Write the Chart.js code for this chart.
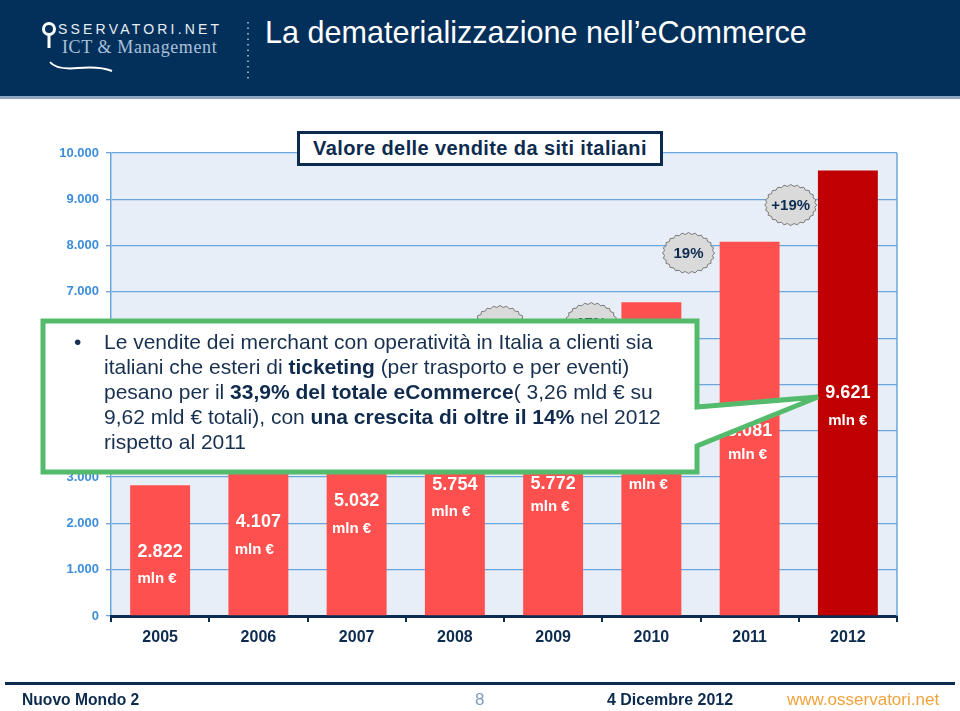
<!DOCTYPE html>
<html><head><meta charset="utf-8">
<script src="https://cdn.jsdelivr.net/npm/chart.js@4.4.1/dist/chart.umd.min.js"></script>
<style>
body{margin:0;width:960px;height:711px;overflow:hidden;background:#fff;position:relative;font-family:"Liberation Sans",Arial,sans-serif;}
#c{position:absolute;left:0;top:0;}
#hdr{position:absolute;left:0;top:0;width:960px;height:96px;background:#03305b;border-bottom:3px solid #8ea6bf;}
#ttl{position:absolute;left:265px;top:14px;color:#fff;font-size:32px;white-space:nowrap;transform:scaleX(0.955);transform-origin:left top;}
#logo1{position:absolute;left:58px;top:21px;color:#e8eef6;font-size:14px;letter-spacing:3.2px;white-space:nowrap;}
#logo2{position:absolute;left:62px;top:37px;color:#a9c0da;font-family:"Liberation Serif","DejaVu Serif",serif;font-size:18px;letter-spacing:0.6px;white-space:nowrap;}
#vbox{position:absolute;left:297px;top:131px;width:360px;height:29px;border:3px solid #0d2b4e;background:#fff;color:#0d2b4e;font-weight:bold;font-size:20px;letter-spacing:0.4px;line-height:29px;text-align:center;white-space:nowrap;}
#txt{position:absolute;left:104px;top:329px;font-size:21px;line-height:25px;color:#18304f;white-space:nowrap;}
#txt b{color:#0f2a4d;}
#bul{position:absolute;left:74px;top:329px;font-size:21px;line-height:25px;color:#18304f;}
#fline{position:absolute;left:5px;top:682px;width:950px;height:3px;background:#0d2b4e;}
.ft{position:absolute;top:690px;font-family:"Liberation Sans Narrow","Liberation Sans",Arial,sans-serif;font-size:17px;font-weight:bold;white-space:nowrap;transform-origin:left top;}
</style></head><body>
<canvas id="c" width="960" height="711"></canvas>
<div id="hdr"></div>
<svg style="position:absolute;left:0;top:0" width="960" height="100">
  <circle cx="49" cy="29" r="5.5" fill="none" stroke="#fff" stroke-width="3"/>
  <line x1="49" y1="35" x2="49" y2="48" stroke="#fff" stroke-width="3"/>
  <path d="M50,62 Q56,70 78,68 Q100,66 112,71" fill="none" stroke="#fff" stroke-width="2"/>
  <line x1="248" y1="22" x2="248" y2="82" stroke="#b8c8da" stroke-width="1.5" stroke-dasharray="1.5,4"/>
</svg>
<div id="logo1">SSERVATORI.NET</div>
<div id="logo2">ICT &amp; Management</div>
<div id="ttl">La dematerializzazione nell’eCommerce</div>
<div id="vbox">Valore delle vendite da siti italiani</div>
<svg style="position:absolute;left:0;top:0" width="960" height="711">
  <path d="M43,321 H697 V407 L818,397 L697,446 V472 H43 Z" fill="#fff" stroke="#55bb6c" stroke-width="5" stroke-linejoin="miter"/>
</svg>
<div id="bul">•</div>
<div id="txt">Le vendite dei merchant con operatività in Italia a clienti sia<br>italiani che esteri di <b>ticketing</b> (per trasporto e per eventi)<br>pesano per il <b>33,9% del totale eCommerce</b>( 3,26 mld € su<br>9,62 mld € totali), con <b>una crescita di oltre il 14%</b> nel 2012<br>rispetto al 2011</div>
<div id="fline"></div>
<div class="ft" style="left:22px;color:#0d2b4e;transform:scaleX(0.92);">Nuovo Mondo 2</div>
<div class="ft" style="left:475px;color:#7d9cc0;font-weight:normal;">8</div>
<div class="ft" style="left:607px;color:#0d2b4e;transform:scaleX(0.94);">4 Dicembre 2012</div>
<div class="ft" style="left:787px;color:#f2a23a;font-weight:normal;">www.osservatori.net</div>
<script>
const years = ['2005','2006','2007','2008','2009','2010','2011','2012'];
const sales = [2822, 4107, 5032, 5754, 5772, 6775, 8081, 9621];
const unitLabel = 'mln €';
const growthAfter = [3, 4, 5, 6];
const growthLabels = ['0%', '17%', '19%', '+19%'];

const fmt = v => String(v).replace(/\B(?=(\d{3})+(?!\d))/g, '.');
const FONT = '"Liberation Sans", Arial, sans-serif';

const bgPlugin = {
  id: 'bg',
  beforeDraw(chart) {
    const {ctx, chartArea: a} = chart;
    ctx.save(); ctx.fillStyle = '#e8eef7';
    ctx.fillRect(a.left, a.top, a.right - a.left, a.bottom - a.top);
    ctx.restore();
  },
  beforeDatasetsDraw(chart) {
    const {ctx, chartArea: a} = chart;
    ctx.save(); ctx.strokeStyle = '#6aa6dc'; ctx.lineWidth = 1.5;
    ctx.beginPath(); ctx.moveTo(a.right, a.top); ctx.lineTo(a.right, a.bottom); ctx.stroke();
    ctx.restore();
  }
};

const barLabelPlugin = {
  id: 'barLabels',
  afterDatasetsDraw(chart, args, opts) {
    const ctx = chart.ctx, ys = chart.scales.y, meta = chart.getDatasetMeta(0);
    ctx.save(); ctx.fillStyle = '#fff'; ctx.textAlign = 'center'; ctx.textBaseline = 'middle';
    meta.data.forEach((bar, i) => {
      ctx.font = 'bold 18px ' + FONT;
      ctx.fillText(fmt(sales[i]), bar.x, ys.getPixelForValue(opts.numAt[i]));
      ctx.font = 'bold 15px ' + FONT;
      ctx.fillText(unitLabel, bar.x + opts.unitDx[i], ys.getPixelForValue(opts.unitAt[i]));
    });
    ctx.restore();
  }
};

const bubblePlugin = {
  id: 'bubbles',
  afterDatasetsDraw(chart, args, opts) {
    const ctx = chart.ctx, xs = chart.scales.x, ys = chart.scales.y;
    growthAfter.forEach((idx, k) => {
      const cx = (xs.getPixelForValue(idx) + xs.getPixelForValue(idx + 1)) / 2 + opts.dx[k];
      const cy = ys.getPixelForValue(opts.at[k]);
      const rx = 26, ry = 20.5, N = 48;
      ctx.save();
      ctx.beginPath();
      for (let j = 0; j <= N; j++) {
        const t = j / N * Math.PI * 2;
        const d = (j % 2) ? 1.8 : 0;
        const px = cx + (rx - d) * Math.cos(t), py = cy + (ry - d) * Math.sin(t);
        if (j === 0) ctx.moveTo(px, py); else ctx.lineTo(px, py);
      }
      ctx.closePath();
      ctx.fillStyle = '#dadada'; ctx.fill();
      ctx.strokeStyle = '#7a7a7a'; ctx.lineWidth = 1; ctx.stroke();
      ctx.fillStyle = '#0d2b4e'; ctx.font = 'bold 15px ' + FONT;
      ctx.textAlign = 'center'; ctx.textBaseline = 'middle';
      ctx.fillText(growthLabels[k], cx, cy + 1);
      ctx.restore();
    });
  }
};

new Chart(document.getElementById('c'), {
  type: 'bar',
  data: {
    labels: years,
    datasets: [{
      data: sales,
      backgroundColor: ctx => ctx.dataIndex === sales.length - 1 ? '#c00000' : '#ff5050',
      borderWidth: 0,
      categoryPercentage: 1,
      barPercentage: 0.61
    }]
  },
  options: {
    responsive: false,
    animation: false,
    devicePixelRatio: 1,
    layout: {padding: {left: 0, right: 63, top: 153, bottom: 0}},
    plugins: {
      legend: {display: false},
      tooltip: {enabled: false},
      barLabels: {
        numAt: [1382, 2030, 2484, 2830, 2840, 3420, 3996, 4816],
        unitAt: [800, 1435, 1880, 2250, 2355, 2840, 3490, 4212],
        unitDx: [-3, -4, -5, -4, -3, -3, -2, 0]
      },
      bubbles: {
        dx: [-4, -11, -12, -8],
        at: [6263, 6328, 7840, 8877]
      }
    },
    scales: {
      y: {
        min: 0, max: 10000,
        afterFit: s => { s.width = 111; },
        ticks: {stepSize: 1000, color: '#3d8ddb', font: {family: FONT, size: 13, weight: 'bold'}, padding: 7,
          callback: v => fmt(v)},
        grid: {color: '#6aa6dc', lineWidth: 1.3, tickLength: 5, drawTicks: true},
        border: {color: '#6aa6dc', width: 1.5}
      },
      x: {
        afterFit: s => { s.height = 95; },
        ticks: {color: '#0d2b4e', font: {family: FONT, size: 16, weight: 'bold'}, padding: 6},
        grid: {drawOnChartArea: false, drawTicks: true, tickLength: 6, color: '#0d2b4e', lineWidth: 2, offset: true},
        border: {color: '#0d2b4e', width: 3}
      }
    }
  },
  plugins: [bgPlugin, barLabelPlugin, bubblePlugin]
});
</script>
</body></html>
